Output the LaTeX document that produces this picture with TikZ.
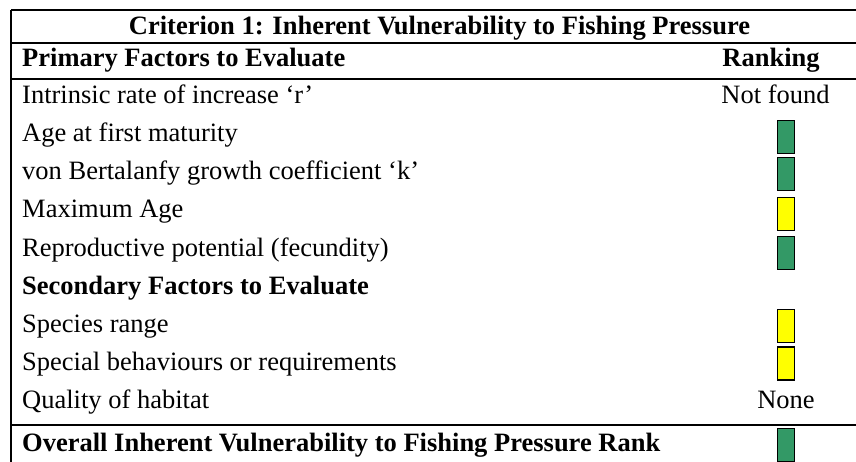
\documentclass[tikz,border=0pt]{standalone}
\usepackage{fontspec}
\setmainfont[Ligatures=NoCommon]{Liberation Serif}
\definecolor{rgreen}{HTML}{339966}
\definecolor{ryellow}{HTML}{FFFF00}
\tikzset{
  rule/.style={line width=2.4pt, black},
  txt/.style={anchor=base west, inner sep=0pt, font=\fontsize{26.5}{30}\selectfont},
  btxt/.style={txt, font=\fontsize{26.5}{30}\selectfont\bfseries},
  ctxt/.style={anchor=base, inner sep=0pt, font=\fontsize{26.5}{30}\selectfont},
  cbtxt/.style={anchor=base, inner sep=0pt, font=\fontsize{26.5}{30}\selectfont\bfseries},
  rankbox/.style={draw=black, line width=1.8pt, minimum width=17pt, minimum height=33pt, inner sep=0pt},
  gbox/.style={rankbox, fill=rgreen},
  ybox/.style={rankbox, fill=ryellow}
}
\begin{document}
\begin{tikzpicture}[x=1pt,y=-1pt]
\useasboundingbox (0,0) rectangle (856,462);
\clip (0,0) rectangle (856,462);
% rules
\coordinate (tl) at (11,10);
\coordinate (tr) at (856,10);
\coordinate (l1) at (11,43);
\coordinate (r1) at (856,43);
\coordinate (l2) at (11,79);
\coordinate (r2) at (856,79);
\coordinate (l3) at (11,425);
\coordinate (r3) at (856,425);
\coordinate (bl) at (11,462);
\draw[rule] (tl) -- (tr);
\draw[rule] (l1) -- (r1);
\draw[rule] (l2) -- (r2);
\draw[rule] (l3) -- (r3);
\draw[rule] (tl) -- (bl);
% texts
\node[cbtxt] (title) at (439.5,35) {Criterion 1: Inherent Vulnerability to Fishing Pressure};
\node[btxt] (prim) at (22,67) {Primary Factors to Evaluate};
\node[cbtxt] (rank) at (771,67) {Ranking};
\node[txt] (f1) at (22,104) {Intrinsic rate of increase ‘r’};
\node[txt] (f2) at (22,142) {Age at first maturity};
\node[txt] (f3) at (22,180) {von Bertalanfy growth coefficient ‘k’};
\node[txt] (f4) at (22,218) {Maximum Age};
\node[txt] (f5) at (22,256) {Reproductive potential (fecundity)};
\node[btxt] (sec) at (22,294) {Secondary Factors to Evaluate};
\node[txt] (s1) at (22,332) {Species range};
\node[txt] (s2) at (22,370) {Special behaviours or requirements};
\node[txt] (s3) at (22,408) {Quality of habitat};
\node[btxt] (ov) at (22,451) {Overall Inherent Vulnerability to Fishing Pressure Rank};
% rankings
\node[ctxt] (r1t) at (775.5,104) {Not found};
\node[gbox] (b2) at (786,137) {};
\node[gbox] (b3) at (786,174) {};
\node[ybox] (b4) at (786,214) {};
\node[gbox] (b5) at (786,253) {};
\node[ybox] (b7) at (786,326) {};
\node[ybox] (b8) at (786,363.5) {};
\node[ctxt] (r9t) at (786,408) {None};
\node[gbox] (bo) at (786,445) {};
\end{tikzpicture}
\end{document}
